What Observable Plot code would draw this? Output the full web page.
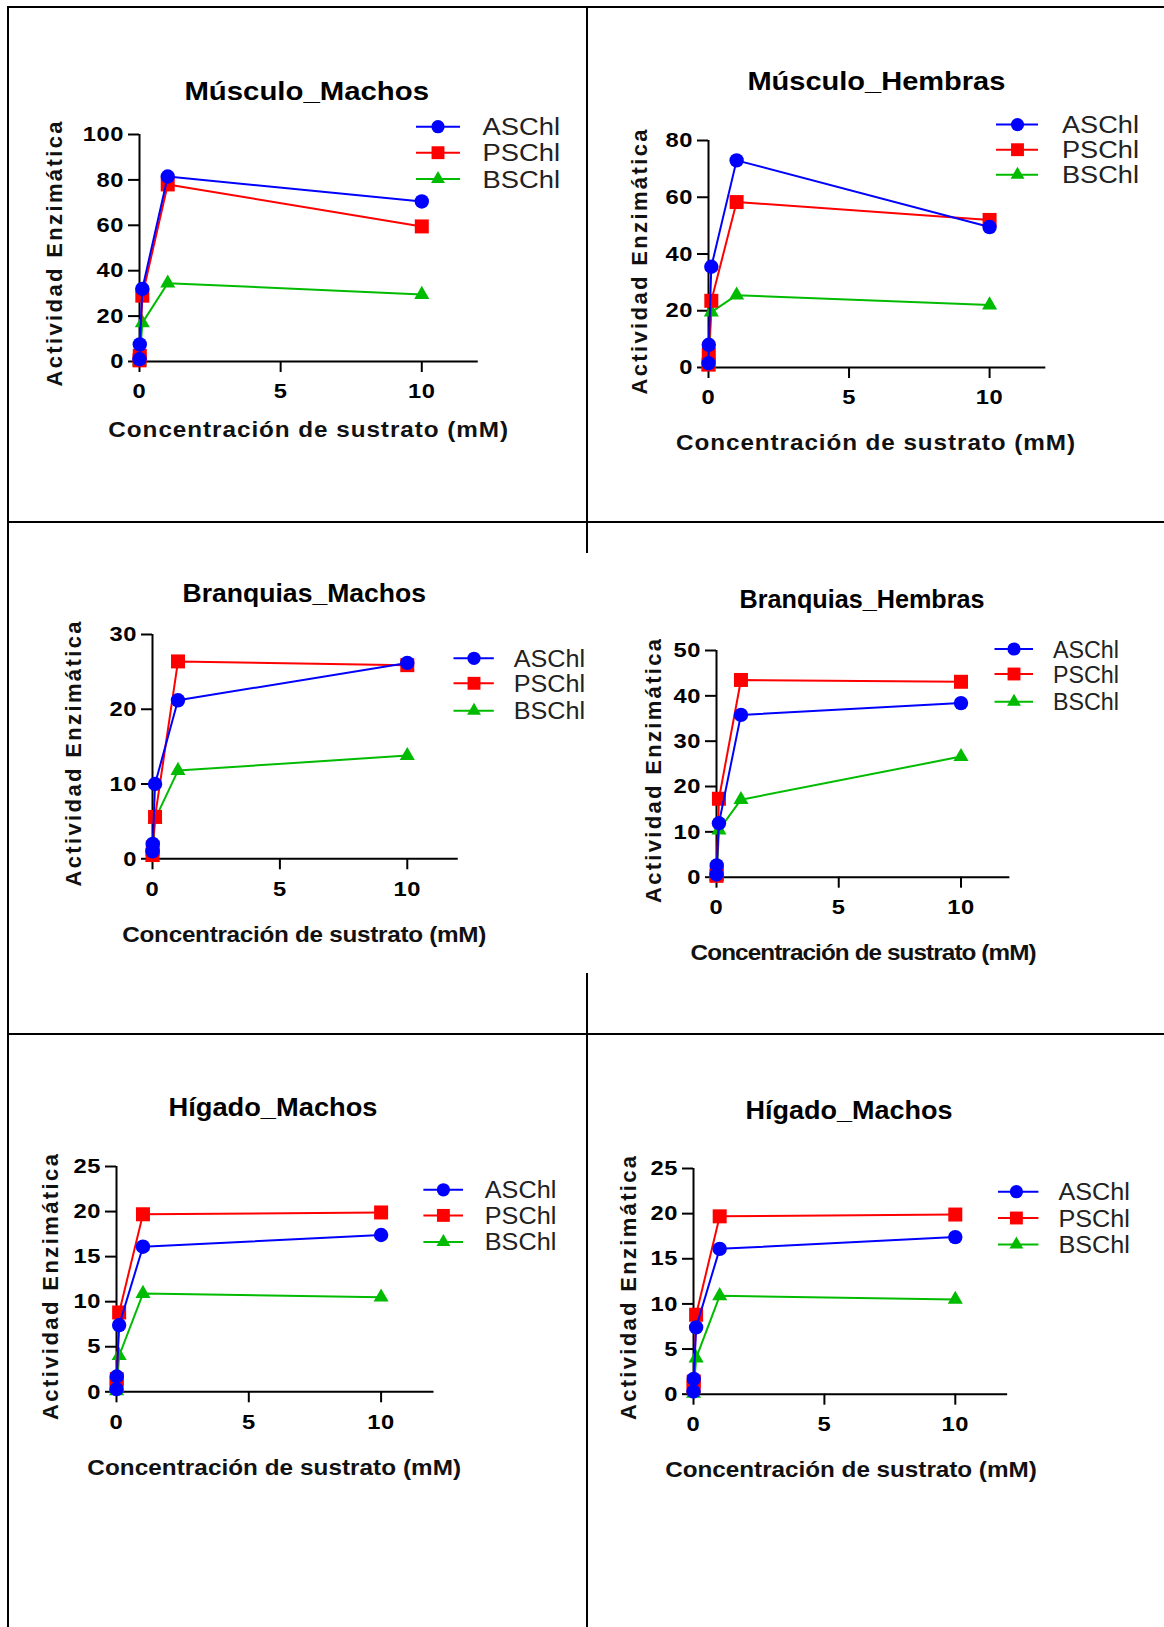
<!DOCTYPE html>
<html>
<head>
<meta charset="utf-8">
<script src="https://cdn.jsdelivr.net/npm/d3@7"></script>
<script src="https://cdn.jsdelivr.net/npm/@observablehq/plot@0.6"></script>
<style>
html, body { margin: 0; padding: 0; background: #fff; }
#page { position: relative; width: 1164px; height: 1627px; overflow: hidden; font-family: "Liberation Sans", Arial, sans-serif; }
.bl { position: absolute; background: #000; }
#page svg.panel { position: absolute; max-width: none; }
#overlay { position: absolute; left: 0; top: 0; pointer-events: none; }
</style>
</head>
<body>
<div id="page"></div>
<script>
// ---------------- data ----------------
const conc = [0.001, 0.01, 0.1, 1, 10];           // substrate concentration (mM)
const seriesNames = ["ASChl", "PSChl", "BSChl"];
const panelTitles = ["Músculo_Machos", "Músculo_Hembras", "Branquias_Machos", "Branquias_Hembras", "Hígado_Machos", "Hígado_Machos"];
const xLabel = "Concentración de sustrato (mM)";
const yLabel = "Actividad Enzimática";
const xTicks = [0, 5, 10];
const yMaxes = [100, 80, 30, 50, 25, 25];
const yTickSteps = [20, 20, 10, 10, 5, 5];

const musculoMachosASChl = [1, 7.5, 32, 81.5, 70.5];
const musculoMachosPSChl = [0.5, 2.5, 29, 78, 59.5];
const musculoMachosBSChl = [0.2, 1, 17, 34.5, 29.5];

const musculoHembrasASChl = [1.5, 8, 35.5, 73, 49.5];
const musculoHembrasPSChl = [1, 4.5, 23.5, 58.3, 52];
const musculoHembrasBSChl = [0.3, 1.5, 19.5, 25.5, 22];

const branquiasMachosASChl = [1, 2, 10, 21.2, 26.2];
const branquiasMachosPSChl = [0.5, 1.5, 5.6, 26.4, 25.9];
const branquiasMachosBSChl = [0.2, 1, 5.3, 11.8, 13.8];

const branquiasHembrasASChl = [0.6, 2.6, 11.9, 35.8, 38.4];
const branquiasHembrasPSChl = [0.3, 0.8, 17.3, 43.5, 43.1];
const branquiasHembrasBSChl = [0.1, 0.4, 10.4, 17.1, 26.6];

const higadoMachosASChl = [0.3, 1.7, 7.4, 16.1, 17.4];
const higadoMachosPSChl = [0.8, 1.4, 8.8, 19.7, 19.9];
const higadoMachosBSChl = [0.1, 0.5, 4.0, 10.9, 10.5];

const panelSeries = [
  [musculoMachosASChl, musculoMachosPSChl, musculoMachosBSChl],
  [musculoHembrasASChl, musculoHembrasPSChl, musculoHembrasBSChl],
  [branquiasMachosASChl, branquiasMachosPSChl, branquiasMachosBSChl],
  [branquiasHembrasASChl, branquiasHembrasPSChl, branquiasHembrasBSChl],
  [higadoMachosASChl, higadoMachosPSChl, higadoMachosBSChl],
  [higadoMachosASChl, higadoMachosPSChl, higadoMachosBSChl]
];

// ---------------- styles & layout ----------------
const colors = ["#0000ff", "#ff0000", "#00bb00"];
const symbols = ["circle", "square", "triangle"];
const radii = [7.2, 7.9, 5.6];
const FONT = "'Liberation Sans', Arial, sans-serif";
const STRETCH = 1.13;

// x0/x10: pixel x of 0 and 10; yb/yt: pixel y of 0 and ymax
const layout = [
  {x0:138.5, x10:420.8, yb:360.5, yt:133.5, tx:306.7, ty:100,   tw:244.6, xlx:308.2, xly:436.7, xlw:399.7, ylx:62,    yly:254,  ylw:265, lx1:416,   lx2:460,    lmx:438,    rows:[126.7,152.7,179],     ltx:482.5,  ltw:77.5},
  {x0:707.9, x10:989.0, yb:366.5, yt:139.5, tx:876.4, ty:90.4,  tw:258,   xlx:875.5, xly:450,   xlw:399,   ylx:646.7, yly:262,  ylw:265, lx1:996,   lx2:1038,   lmx:1017.5, rows:[124.6,149.7,174.8],   ltx:1062,   ltw:77},
  {x0:151.7, x10:406.5, yb:858.3, yt:634,   tx:304.3, ty:601.7, tw:243.5, xlx:304.3, xly:941.7, xlw:364,   ylx:81,    yly:754,  ylw:265, lx1:453.5, lx2:493.8,  lmx:474,    rows:[658.3,683.3,710.7],   ltx:513.7,  ltw:71.5},
  {x0:716.3, x10:960.8, yb:876.7, yt:650,   tx:862,   ty:608.3, tw:245,   xlx:863.6, xly:960,   xlw:346,   ylx:661,   yly:771,  ylw:264, lx1:994.5, lx2:1033,   lmx:1014,   rows:[649,674,701.7],       ltx:1053,   ltw:66},
  {x0:115.5, x10:380.1, yb:1391.7,yt:1166.4,tx:273,   ty:1116,  tw:209,   xlx:274.2, xly:1475,  xlw:373.7, ylx:58.3,  yly:1287, ylw:266, lx1:423.4, lx2:463,    lmx:443.4,  rows:[1189.8,1215.4,1241.9],ltx:484.8,  ltw:71.5},
  {x0:693.2, x10:955.0, yb:1393.6,yt:1167.9,tx:849,   ty:1118.8,tw:207,   xlx:851,   xly:1476.7,xlw:371.6, ylx:636,   yly:1288, ylw:264, lx1:998,   lx2:1038.4, lmx:1016.4, rows:[1191.7,1218,1244.5],  ltx:1058.5, ltw:71.4}
];

const page = document.getElementById("page");

// table borders
function bl(l, t, w, h) {
  const d = document.createElement("div");
  d.className = "bl";
  Object.assign(d.style, {left: l + "px", top: t + "px", width: w + "px", height: h + "px"});
  page.appendChild(d);
}
bl(7, 6, 1157, 2);          // top
bl(7, 6, 2.4, 1621);        // left
bl(585.5, 6, 2, 547);       // divider (upper part)
bl(585.5, 973, 2, 654);     // divider (lower part)
bl(7, 520.5, 1157, 2);      // row line 1
bl(7, 1033, 1157, 2);       // row line 2

// plots
const ML = 100, MT = 20, MR = 10, MB = 60;
layout.forEach((g, p) => {
  const ymax = yMaxes[p];
  const yTicks = d3.range(0, ymax + 0.001, yTickSteps[p]);
  const plotW = (g.x10 - g.x0) * 1.2;
  const plotH = g.yb - g.yt;
  const marks = [
    Plot.ruleY([0], {stroke: "#000", strokeWidth: 2}),
    Plot.ruleX([0], {stroke: "#000", strokeWidth: 2}),
    Plot.axisX(xTicks, {tickSize: 11, tickPadding: 11, strokeWidth: 2, label: null, tickFormat: d => String(d)}),
    Plot.axisY(yTicks, {tickSize: 11, tickPadding: 4.5, strokeWidth: 2, label: null, tickFormat: d => String(d)})
  ];
  // draw BSChl first, ASChl last (on top)
  [2, 1, 0].forEach(si => {
    const data = conc.map((c, i) => ({x: c, y: panelSeries[p][si][i]}));
    marks.push(Plot.line(data, {x: "x", y: "y", stroke: colors[si], strokeWidth: 2}));
    marks.push(Plot.dot(data, {x: "x", y: "y", fill: colors[si], stroke: "none", r: radii[si], symbol: symbols[si]}));
  });
  const svg = Plot.plot({
    width: ML + plotW + MR,
    height: MT + plotH + MB,
    marginLeft: ML, marginTop: MT, marginRight: MR, marginBottom: MB,
    x: {domain: [0, 12]},
    y: {domain: [0, ymax]},
    style: {fontFamily: FONT, fontSize: "21px", fontWeight: "bold", letterSpacing: "0.5px", color: "#000", background: "transparent", overflow: "visible"},
    marks
  });
  // widen tick label glyphs horizontally around their anchor (as in the reference)
  svg.querySelectorAll('g[aria-label$="tick label"] text').forEach(t => {
    const tr = t.getAttribute("transform") || "";
    const xa = t.getAttribute("x");
    let pre = "";
    if (xa != null && xa !== "" && !isNaN(+xa)) { pre = ` translate(${+xa},0)`; t.removeAttribute("x"); }
    t.setAttribute("transform", `${tr}${pre} scale(${STRETCH},1)`);
  });
  svg.classList.add("panel");
  svg.style.left = (g.x0 - ML) + "px";
  svg.style.top = (g.yt - MT) + "px";
  page.appendChild(svg);
});

// overlay: titles, axis labels, legends
const ov = d3.select(page).append("svg").attr("id", "overlay")
  .attr("width", 1164).attr("height", 1627)
  .style("font-family", FONT);

layout.forEach((g, p) => {
  ov.append("text").attr("x", g.tx).attr("y", g.ty)
    .attr("text-anchor", "middle").attr("font-size", 26).attr("font-weight", "bold")
    .attr("textLength", g.tw).attr("lengthAdjust", "spacingAndGlyphs")
    .text(panelTitles[p]);
  ov.append("text").attr("transform", `translate(${g.xlx},${g.xly}) scale(${STRETCH},1)`)
    .attr("text-anchor", "middle").attr("font-size", 21.5).attr("font-weight", "bold").attr("fill", "#111")
    .attr("textLength", g.xlw / STRETCH).attr("lengthAdjust", "spacing")
    .text(xLabel);
  ov.append("text").attr("transform", `translate(${g.ylx},${g.yly}) rotate(-90)`)
    .attr("text-anchor", "middle").attr("font-size", 22).attr("font-weight", "bold").attr("fill", "#111")
    .attr("textLength", g.ylw).attr("lengthAdjust", "spacing")
    .text(yLabel);
  seriesNames.forEach((name, si) => {
    const y = g.rows[si];
    ov.append("line").attr("x1", g.lx1).attr("x2", g.lx2).attr("y1", y).attr("y2", y)
      .attr("stroke", colors[si]).attr("stroke-width", 2);
    const sym = [d3.symbolCircle, d3.symbolSquare, d3.symbolTriangle][si];
    const lr = radii[si] * 0.92;
    ov.append("path").attr("d", d3.symbol(sym, Math.PI * lr * lr)())
      .attr("transform", `translate(${g.lmx},${y})`).attr("fill", colors[si]);
    ov.append("text").attr("x", g.ltx).attr("y", y + 8.5)
      .attr("font-size", 23.5).attr("fill", "#222")
      .attr("textLength", g.ltw).attr("lengthAdjust", "spacingAndGlyphs")
      .text(name);
  });
});
</script>
</body>
</html>
